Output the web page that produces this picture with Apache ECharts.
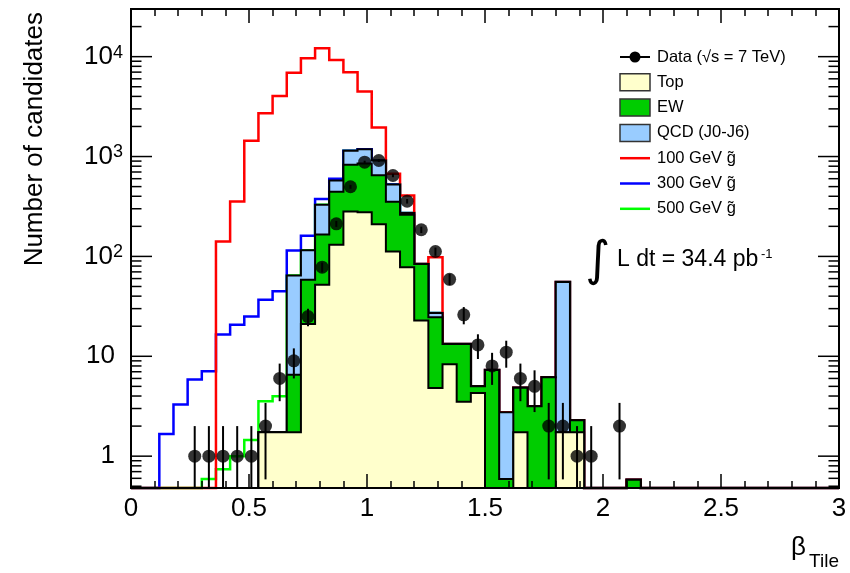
<!DOCTYPE html>
<html><head><meta charset="utf-8">
<script src="https://cdn.jsdelivr.net/npm/echarts@6/dist/echarts.min.js"></script>
<style>html,body{margin:0;padding:0;background:#fff}#c{width:850px;height:573px}</style>
</head><body><div id="c"></div>
<script>
// ---- binning (50 bins of width 0.06 from 0 to 3) ----
const BIN_W = 0.06;
const N_BINS = 50;
const X_MIN = 0, X_MAX = 3, X_INTERVAL = 0.5;
const Y_MIN = 0.48, Y_MAX = 30000;

// ---- backgrounds (per bin, stacked Top -> EW -> QCD) ----
const topMC = [0,0,0,0,0,0,0,0,0,1.74,1.74,1.74,21,52,131,282,276,210,112,78,22.8,4.8,8.3,3.5,4.3,0,0,1.74,0,0,1.74,1.74,0,0,0,0,0,0,0,0,0,0,0,0,0,0,0,0,0,0];
const ewMC  = [0,0,0,0,0,0,0,0,0,0,0,4.8,37.5,114,313,544,574,440,240,184,61,19.8,5.0,9.8,0.7,7.3,0.59,3.1,3.16,6.17,0,0.55,0,0,0,0.58,0,0,0,0,0,0,0,0,0,0,0,0,0,0];
const qcdMC = [0,0,0,0,0,0,0,0,0,0,0,58,56.5,163,131,314,336,262,173,10,0,2.6,0,0,0,0,2.16,0,0,0,53.7,0,0,0,0,0,0,0,0,0,0,0,0,0,0,0,0,0,0,0];

// ---- gluino signals (added on top of total background) ----
const sig100 = [0,0,0,0,0,0,141,355,1435,2715,4043,6850,9520,11800,8700,5840,3280,1040,146,135,0,71,0,0,0,0,0,0,0,0,0,0,0,0,0,0,0,0,0,0,0,0,0,0,0,0,0,0,0,0];
const sig300 = [0,0,1.67,3.3,5.85,7.1,16.5,20.7,25,35,43,50,46,46,25,0,0,0,0,0,0,0,0,0,0,0,0,0,0,0,0,0,0,0,0,0,0,0,0,0,0,0,0,0,0,0,0,0,0,0];
const sig500 = [0,0,0,0,0,0.59,0.74,1.0,1.45,1.8,2.24,0,0,0,0,0,0,0,0,0,0,0,0,0,0,0,0,0,0,0,0,0,0,0,0,0,0,0,0,0,0,0,0,0,0,0,0,0,0,0];

// ---- data counts ----
const dataCounts = [0,0,0,0,1,1,1,1,1,2,6,9,25,78,212,498,879,912,646,357,185,112,59,26,13,8,11,6,5,2,2,1,1,0,2,0,0,0,0,0,0,0,0,0,0,0,0,0,0,0];

// ---- axis decorations ----
const yMajorTicks = [1,10,100,1000,10000];
const yMinorTicks = [0.5,0.6,0.7,0.8,0.9,2,3,4,5,6,7,8,9,20,30,40,50,60,70,80,90,200,300,400,500,600,700,800,900,2000,3000,4000,5000,6000,7000,8000,9000,20000];
const legendNames = ['Data (√s = 7 TeV)','Top','EW','QCD (J0-J6)','100 GeV g\u0303','300 GeV g\u0303','500 GeV g\u0303'];

const FONT = '"Liberation Sans", Arial, Helvetica, sans-serif';
const C_TOP = '#ffffcc', C_EW = '#00cc00', C_QCD = '#99ccff';
const C_R = '#ff0000', C_B = '#0000ff', C_G = '#00ff00';

const cumTop = topMC.slice();
const cumEW = cumTop.map((v,i)=>v+ewMC[i]);
const cumQCD = cumEW.map((v,i)=>v+qcdMC[i]);
const tot100 = cumQCD.map((v,i)=>v+sig100[i]);
const tot300 = cumQCD.map((v,i)=>v+sig300[i]);
const tot500 = cumQCD.map((v,i)=>v+sig500[i]);

function stepPts(api, vals){
  const pts = [api.coord([X_MIN, Y_MIN])];
  for (let i=0;i<vals.length;i++){
    const v = Math.min(Math.max(vals[i], Y_MIN), Y_MAX);
    pts.push(api.coord([i*BIN_W, v]));
    pts.push(api.coord([(i+1)*BIN_W, v]));
  }
  pts.push(api.coord([N_BINS*BIN_W, Y_MIN]));
  return pts;
}
function histFill(name, vals, color){
  return {type:'custom', name, data:[[0,1]], silent:true, z:3,
    renderItem:(p,api)=>({type:'polygon', shape:{points:stepPts(api, vals)},
      style:{fill:color, stroke:'#000', lineWidth:2, lineJoin:'miter'}})};
}
function histLine(name, vals, color){
  return {type:'custom', name, data:[[0,1]], silent:true, z:2,
    renderItem:(p,api)=>({type:'polyline', shape:{points:stepPts(api, vals)},
      style:{fill:null, stroke:color, lineWidth:2.5, lineJoin:'miter'}})};
}

const pts = [];
dataCounts.forEach((n,i)=>{ if(n>0) pts.push([(i+0.5)*BIN_W, n]); });

const chart = echarts.init(document.getElementById('c'), null, {renderer:'canvas'});

const isPow10 = v => Math.abs(Math.log10(v) - Math.round(Math.log10(v))) < 1e-6;

const yTickSeries = {
  type:'custom', name:'yticks', silent:true, z:11,
  data: yMajorTicks.map(v=>[0,v,1]).concat(yMinorTicks.map(v=>[0,v,0])),
  renderItem:(p,api)=>{
    const v = api.value(1), major = api.value(2)===1;
    const L = major ? 21 : 10.5;
    const a = api.coord([X_MIN, v]), b = api.coord([X_MAX, v]);
    return {type:'group', children:[
      {type:'line', shape:{x1:a[0], y1:a[1], x2:a[0]+L, y2:a[1]}, style:{stroke:'#000', lineWidth:1.5}},
      {type:'line', shape:{x1:b[0], y1:b[1], x2:b[0]-L, y2:b[1]}, style:{stroke:'#000', lineWidth:1.5}}
    ]};
  }
};

const errSeries = {
  type:'custom', name:'Data errors', silent:true, z:12,
  data: pts,
  renderItem:(p,api)=>{
    const x = api.value(0), n = api.value(1), e = Math.sqrt(n);
    const lo = api.coord([x, Math.max(n-e, Y_MIN)]);
    const hi = api.coord([x, Math.min(n+e, Y_MAX)]);
    return {type:'line', shape:{x1:lo[0], y1:lo[1], x2:hi[0], y2:hi[1]}, style:{stroke:'#000', lineWidth:2}};
  }
};

// legend drawn as graphics
const LX = 620, LY0 = 57, LDY = 25.3;
const legendGraphics = [];
legendNames.forEach((name,k)=>{
  const yc = LY0 + k*LDY;
  if (k===0){
    legendGraphics.push({type:'line', shape:{x1:LX, y1:yc, x2:LX+30, y2:yc}, style:{stroke:'#000', lineWidth:2}});
    legendGraphics.push({type:'circle', shape:{cx:LX+15, cy:yc, r:5.5}, style:{fill:'#000'}});
  } else if (k<=3){
    const col = [null, C_TOP, C_EW, C_QCD][k];
    legendGraphics.push({type:'rect', shape:{x:LX, y:yc-8.5, width:30, height:17}, style:{fill:col, stroke:'#333', lineWidth:1.5}});
  } else {
    const col = [C_R, C_B, C_G][k-4];
    legendGraphics.push({type:'line', shape:{x1:LX, y1:yc, x2:LX+30, y2:yc}, style:{stroke:col, lineWidth:2.5}});
  }
  legendGraphics.push({type:'text', x:LX+37, y:yc, style:{text:name, font:'16.5px '+FONT, fill:'#000', verticalAlign:'middle', align:'left'}});
});

chart.setOption({
  animation:false,
  backgroundColor:'#fff',
  grid:{left:131, top:9, width:708, height:479, show:true, borderColor:'#000', borderWidth:2, backgroundColor:'transparent', z:10},
  xAxis:[
    {type:'value', min:X_MIN, max:X_MAX, interval:X_INTERVAL, position:'bottom', z:10,
     axisLine:{show:false}, splitLine:{show:false},
     axisTick:{show:true, inside:true, length:14, lineStyle:{color:'#000', width:1.5}},
     minorTick:{show:true, splitNumber:5, length:7, lineStyle:{color:'#000', width:1.5}},
     axisLabel:{fontSize:26, fontFamily:FONT, color:'#000', margin:8}},
    {type:'value', min:X_MIN, max:X_MAX, interval:X_INTERVAL, position:'top', z:10,
     axisLine:{show:false}, splitLine:{show:false},
     axisTick:{show:true, inside:true, length:14, lineStyle:{color:'#000', width:1.5}},
     minorTick:{show:true, splitNumber:5, length:7, lineStyle:{color:'#000', width:1.5}},
     axisLabel:{show:false}}
  ],
  yAxis:{type:'log', logBase:10, min:Y_MIN, max:Y_MAX, z:10,
     axisLine:{show:false}, splitLine:{show:false}, axisTick:{show:false},
     axisLabel:{margin:8, color:'#000',
       formatter:v=>{
         if(!isPow10(v)) return '';
         const k = Math.round(Math.log10(v));
         if (k===0) return '{b|1}{p| }';
         if (k===1) return '{b|10}{p| }';
         return '{b|10}{s|'+k+'}';
       },
       rich:{b:{fontSize:26, fontFamily:FONT, color:'#000', lineHeight:26},
             s:{fontSize:18, fontFamily:FONT, color:'#000', verticalAlign:'top', lineHeight:18},
             p:{fontSize:18, width:8}}
     }},
  series:[
    histLine('500 GeV g̃', tot500, C_G),
    histLine('300 GeV g̃', tot300, C_B),
    histLine('100 GeV g̃', tot100, C_R),
    histFill('QCD (J0-J6)', cumQCD, C_QCD),
    histFill('EW', cumEW, C_EW),
    histFill('Top', cumTop, C_TOP),
    yTickSeries,
    errSeries,
    {type:'scatter', name:'Data', data:pts, symbol:'circle', symbolSize:13, itemStyle:{color:'#000'}, z:13, silent:true}
  ],
  graphic:[
    {type:'text', x:35, y:12, rotation:Math.PI/2, style:{text:'Number of candidates', font:'26px '+FONT, fill:'#000', align:'right', verticalAlign:'middle'}},
    {type:'text', x:806, y:548, style:{text:'β', font:'26px '+FONT, fill:'#000', align:'right', verticalAlign:'middle'}},
    {type:'text', x:839, y:562, style:{text:'Tile', font:'19px '+FONT, fill:'#000', align:'right', verticalAlign:'middle'}},
    {type:'text', x:598, y:263, style:{text:'∫', font:'48px "DejaVu Sans", sans-serif', fill:'#000', align:'center', verticalAlign:'middle'}},
    {type:'text', x:617, y:260, style:{text:'L dt = 34.4 pb', font:'23px '+FONT, fill:'#000', align:'left', verticalAlign:'middle'}},
    {type:'text', x:761, y:254, style:{text:'-1', font:'13px '+FONT, fill:'#000', align:'left', verticalAlign:'middle'}}
  ].concat(legendGraphics)
});
</script></body></html>
